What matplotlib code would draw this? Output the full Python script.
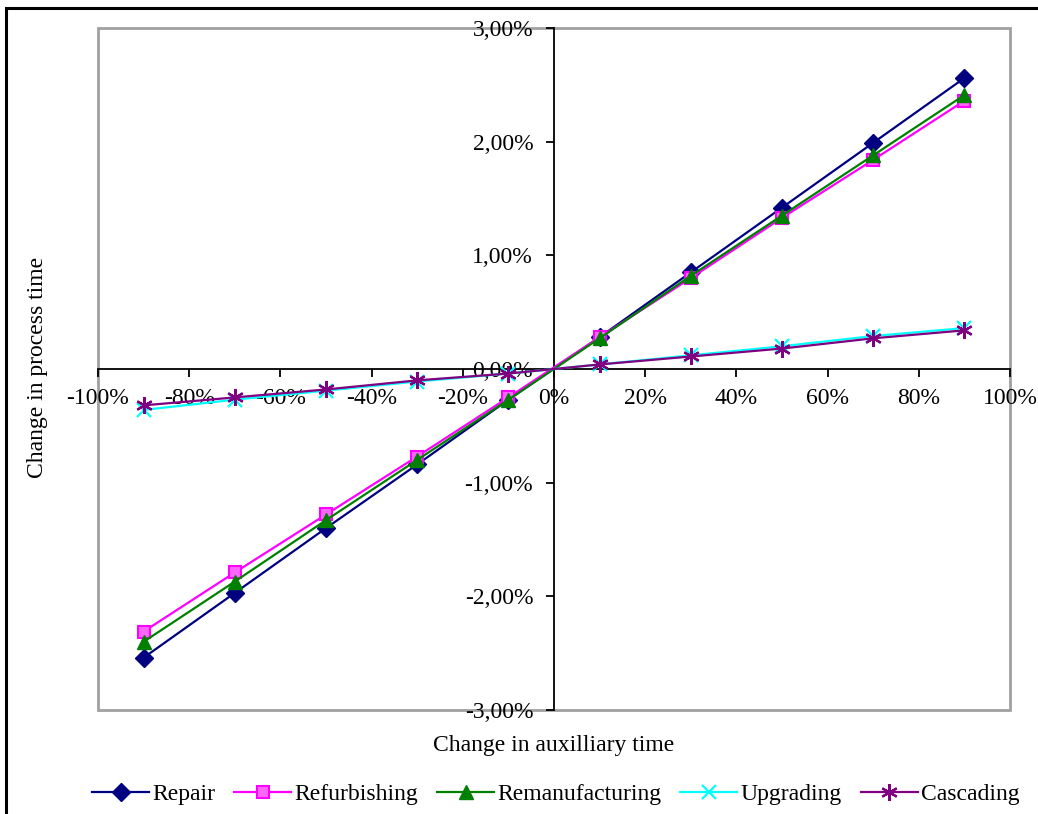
import matplotlib
matplotlib.use("Agg")
import matplotlib.pyplot as plt
from matplotlib.ticker import FuncFormatter
from matplotlib.patches import Rectangle

x_vals = [-90, -70, -50, -30, -10, 10, 30, 50, 70, 90]
repair = [-2.54, -1.97, -1.40, -0.84, -0.27, 0.28, 0.85, 1.42, 1.99, 2.56]
refurbishing = [-2.31, -1.79, -1.28, -0.77, -0.25, 0.28, 0.80, 1.33, 1.84, 2.36]
remanufacturing = [-2.40, -1.87, -1.33, -0.80, -0.27, 0.27, 0.82, 1.35, 1.88, 2.41]
upgrading = [-0.36, -0.27, -0.19, -0.11, -0.04, 0.04, 0.12, 0.20, 0.29, 0.36]
cascading = [-0.32, -0.25, -0.18, -0.10, -0.04, 0.04, 0.11, 0.18, 0.27, 0.34]

series_names = ["Repair", "Refurbishing", "Remanufacturing", "Upgrading", "Cascading"]
x_ticks = [-100, -80, -60, -40, -20, 0, 20, 40, 60, 80, 100]
y_ticks = [-3, -2, -1, 0, 1, 2, 3]

plt.rcParams['font.family'] = ['Liberation Serif', 'DejaVu Serif']
FS = 17

W, H = 1038, 814
fig = plt.figure(figsize=(W / 100, H / 100), dpi=100)

# outer chart border
fig.patches.append(Rectangle((6 / W, -0.05), 1.2, (814 - 8) / H + 0.05,
                             transform=fig.transFigure, fill=False,
                             edgecolor='black', linewidth=2.2))

L, R, T, B = 98, 1010, 28, 710
ax = fig.add_axes([L / W, 1 - B / H, (R - L) / W, (B - T) / H])

styles = [
    dict(color='#000080', marker='D', markersize=9.5, mfc='#000080', mec='#000080'),
    dict(color='#FF00FF', marker='s', markersize=8.5, mfc='#FF66FF', mec='#FF00FF', mew=1.5),
    dict(color='#008000', marker='^', markersize=10.5, mfc='#008000', mec='#008000'),
    dict(color='#00FFFF', marker='x', markersize=10, mec='#00FFFF', mew=1.6),
    dict(color='#800080', marker=(6, 2, 0), markersize=12, mec='#800080', mew=1.6),
]
all_series = [repair, refurbishing, remanufacturing, upgrading, cascading]
handles = []
for name, ys, st in zip(series_names, all_series, styles):
    h, = ax.plot(x_vals, ys, linewidth=1.6, label=name, zorder=3, **st)
    handles.append(h)

ax.set_xlim(-100, 100)
ax.set_ylim(-3, 3)

for s in ['top', 'right']:
    ax.spines[s].set_visible(False)
ax.spines['left'].set_position(('data', 0))
ax.spines['bottom'].set_position(('data', 0))
ax.spines['left'].set_linewidth(1.3)
ax.spines['bottom'].set_linewidth(1.3)

# gray plot-area frame
ax.add_patch(Rectangle((0, 0), 1, 1, transform=ax.transAxes, fill=False,
                       edgecolor='#a0a0a0', linewidth=2, zorder=1, clip_on=False))

ax.set_xticks(x_ticks)
ax.set_yticks(y_ticks)
ax.xaxis.set_major_formatter(FuncFormatter(lambda v, p: f"{int(round(v))}%"))
ax.yaxis.set_major_formatter(FuncFormatter(lambda v, p: f"{v:.2f}%".replace('.', ',')))
ax.tick_params(axis='x', direction='out', length=6, width=1.3, labelsize=FS, pad=8)
ax.tick_params(axis='y', direction='out', length=6, width=1.3, labelsize=FS, pad=9)

fig.text(554 / W, 1 - 745 / H, "Change in auxilliary time", ha='center', va='center', fontsize=FS)
fig.text(38 / W, 1 - 367 / H, "Change in process time", ha='center', va='center',
         rotation=90, fontsize=FS)

fig.legend(handles=handles, labels=series_names, loc='center',
           bbox_to_anchor=(556 / W, 1 - 794 / H), ncol=5, frameon=False,
           fontsize=FS, handlelength=2.4, columnspacing=0.8, handletextpad=0.15)

fig.savefig("out.png", dpi=100)
